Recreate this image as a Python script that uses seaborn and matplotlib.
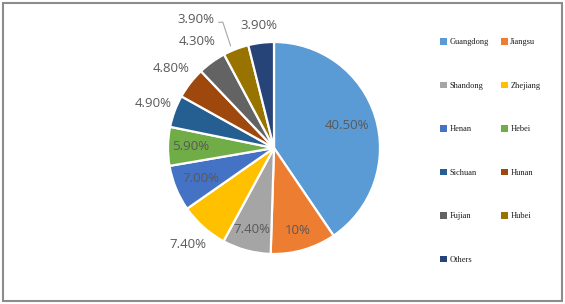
import matplotlib
matplotlib.use("Agg")
import matplotlib.pyplot as plt
import seaborn as sns
import numpy as np
from matplotlib.patches import Rectangle

regions = ["Guangdong", "Jiangsu", "Shandong", "Zhejiang", "Henan", "Hebei",
           "Sichuan", "Hunan", "Fujian", "Hubei", "Others"]
shares = [40.5, 10.0, 7.4, 7.4, 7.0, 5.9, 4.9, 4.8, 4.3, 3.9, 3.9]
labels = ["40.50%", "10%", "7.40%", "7.40%", "7.00%", "5.90%",
          "4.90%", "4.80%", "4.30%", "3.90%", "3.90%"]
colors = ["#5B9BD5", "#ED7D31", "#A5A5A5", "#FFC000", "#4472C4", "#70AD47",
          "#255E91", "#9E480E", "#636363", "#997300", "#264478"]

# label layout (radius fraction of pie radius)
label_r = [0.72, 0.81, 0.80, 1.22, 0.75, 0.79, 1.22, 1.23, 1.24, 1.42, 1.16]

sns.set_theme(style="white")
palette = sns.color_palette(colors)

W, H = 565, 304
fig = plt.figure(figsize=(W / 100, H / 100), dpi=100)
fig.patch.set_facecolor("white")

cx, cy, R = 274, H - 148, 106
ax = fig.add_axes([(cx - R) / W, (cy - R) / H, 2 * R / W, 2 * R / H])
wedges, _ = ax.pie(shares, colors=palette, startangle=90, counterclock=False,
                   radius=1.0, wedgeprops=dict(edgecolor="white", linewidth=1.6))
ax.set_xlim(-1, 1)
ax.set_ylim(-1, 1)
ax.set_aspect("equal")
ax.axis("off")

lab_color = "#595959"
for i, (w, lab) in enumerate(zip(wedges, labels)):
    ang = np.deg2rad((w.theta1 + w.theta2) / 2)
    r = label_r[i]
    if regions[i] == "Hubei":
        ang2 = ang + np.deg2rad(10)
        tx, ty = r * np.cos(ang2), r * np.sin(ang2)
        ex, ey = 1.0 * np.cos(ang), 1.0 * np.sin(ang)
        ax.text(tx, ty, lab, ha="center", va="center", fontsize=9.5,
                color=lab_color, family="Open Sans")
        # leader line
        ax.plot([tx + 0.21, tx + 0.25, ex - 0.05], [ty - 0.03, ty - 0.03, ey + 0.03],
                color="#A6A6A6", lw=0.8, clip_on=False)
    else:
        tx, ty = r * np.cos(ang), r * np.sin(ang)
        ax.text(tx, ty, lab, ha="center", va="center", fontsize=9.5,
                color=lab_color, family="Open Sans")

# legend, row-wise order in two columns
handles = [Rectangle((0, 0), 1, 1, facecolor=c, edgecolor="none") for c in palette]
order = list(range(0, len(regions), 2)) + list(range(1, len(regions), 2))
leg = fig.legend([handles[i] for i in order], [regions[i] for i in order],
                 ncol=2, loc="upper left", bbox_to_anchor=(436 / W, 1 - 34 / H),
                 frameon=False, prop=dict(family="Liberation Serif", size=6.0),
                 handlelength=0.8, handleheight=0.8, handletextpad=0.3,
                 labelspacing=4.25, columnspacing=1.5, borderpad=0)
for t in leg.get_texts():
    t.set_color("#1a1a1a")

# outer frame
fig.patches.append(Rectangle((3 / W, 3 / H), 1 - 6 / W, 1 - 6 / H,
                             transform=fig.transFigure, fill=False,
                             edgecolor="#8c8c8c", linewidth=1.5))

fig.savefig("out.png", dpi=100)
